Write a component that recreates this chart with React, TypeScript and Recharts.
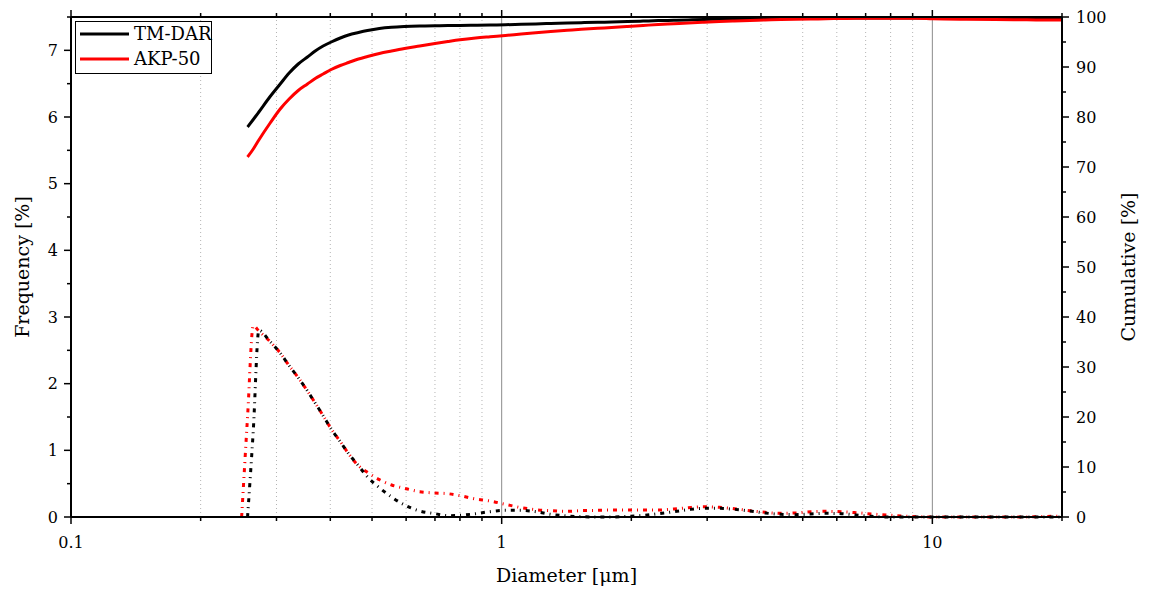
import React from 'react';
import { ComposedChart, Line, XAxis, YAxis, ReferenceLine, Legend } from 'recharts';

const diameters = [
  0.249, 0.257, 0.265, 0.273, 0.29, 0.306, 0.321, 0.337, 0.354, 0.369,
  0.385, 0.402, 0.422, 0.441, 0.465, 0.488, 0.52, 0.555, 0.595, 0.645,
  0.7, 0.75, 0.8, 0.87, 0.94, 1.02, 1.11, 1.2, 1.3, 1.42,
  1.53, 1.67, 1.8, 1.96, 2.13, 2.31, 2.51, 2.71, 2.95, 3.2,
  3.47, 3.77, 4.09, 4.45, 4.81, 5.22, 5.66, 6.14, 6.65, 7.23,
  7.83, 8.47, 9.17, 10, 12, 14, 16, 17.6, 19.1, 20,
];

const tmDarFrequency = [
  null, 0, 1.3, 2.8, 2.63, 2.46, 2.27, 2.09, 1.89, 1.71,
  1.52, 1.32, 1.13, 0.95, 0.77, 0.6, 0.44, 0.3, 0.18, 0.09,
  0.05, 0.02, 0.025, 0.05, 0.08, 0.1, 0.1, 0.08, 0.04, 0.015,
  0.005, 0, 0, 0.01, 0.025, 0.05, 0.08, 0.11, 0.13, 0.13,
  0.115, 0.09, 0.06, 0.04, 0.035, 0.045, 0.055, 0.05, 0.03, 0.01,
  0, 0, 0, 0, 0, 0, 0, 0, 0, 0,
];

const akp50Frequency = [
  0, 1.5, 2.87, 2.79, 2.63, 2.46, 2.27, 2.09, 1.89, 1.71,
  1.52, 1.32, 1.13, 0.95, 0.77, 0.67, 0.56, 0.48, 0.43, 0.38,
  0.36, 0.35, 0.32, 0.27, 0.24, 0.19, 0.14, 0.11, 0.095, 0.085,
  0.095, 0.1, 0.105, 0.105, 0.105, 0.105, 0.12, 0.14, 0.155, 0.145,
  0.125, 0.095, 0.07, 0.055, 0.06, 0.08, 0.085, 0.08, 0.065, 0.045,
  0.03, 0.015, 0.005, 0, 0, 0, 0, 0.005, 0.01, 0.01,
];

const tmDarCumulative = [
  null, 78.0, 79.5, 81.0, 84.1, 86.6, 88.8, 90.6, 92.0, 93.2,
  94.2, 95.0, 95.8, 96.4, 96.9, 97.3, 97.7, 97.95, 98.1, 98.2,
  98.25, 98.3, 98.3, 98.35, 98.4, 98.45, 98.55, 98.62, 98.7, 98.8,
  98.87, 98.95, 99.0, 99.08, 99.18, 99.28, 99.35, 99.42, 99.5, 99.55,
  99.6, 99.65, 99.7, 99.72, 99.75, 99.77, 99.78, 99.8, 99.8, 99.8,
  99.8, 99.8, 99.8, 99.8, 99.78, 99.76, 99.75, 99.75, 99.75, 99.75,
];

const akp50Cumulative = [
  null, 72.0, 73.6, 75.4, 78.8, 81.6, 83.6, 85.3, 86.6, 87.7,
  88.6, 89.5, 90.3, 90.9, 91.6, 92.1, 92.7, 93.2, 93.7, 94.2,
  94.7, 95.1, 95.45, 95.8, 96.05, 96.3, 96.6, 96.85, 97.1, 97.35,
  97.55, 97.75, 97.9, 98.1, 98.3, 98.5, 98.65, 98.8, 98.95, 99.1,
  99.2, 99.3, 99.4, 99.5, 99.55, 99.6, 99.65, 99.7, 99.75, 99.75,
  99.75, 99.75, 99.75, 99.65, 99.55, 99.5, 99.45, 99.4, 99.4, 99.4,
];

const seriesNames = ['TM-DAR', 'AKP-50'];
const seriesColors = ['#000000', '#ff0000'];

const xTicks = [0.1, 0.2, 0.3, 0.4, 0.5, 0.6, 0.7, 0.8, 0.9, 1, 2, 3, 4, 5, 6, 7, 8, 9, 10, 20];
const xMajorTicks = [0.1, 1, 10];
const gridDotted = [0.2, 0.3, 0.4, 0.5, 0.6, 0.7, 0.8, 0.9, 2, 3, 4, 5, 6, 7, 8, 9];
const gridSolid = [1, 10];
const freqTicks = [0, 0.5, 1, 1.5, 2, 2.5, 3, 3.5, 4, 4.5, 5, 5.5, 6, 6.5, 7, 7.5];
const cumTicks = [0, 5, 10, 15, 20, 25, 30, 35, 40, 45, 50, 55, 60, 65, 70, 75, 80, 85, 90, 95, 100];

const data = diameters.map((d, i) => ({
  d,
  tmF: tmDarFrequency[i],
  akF: akp50Frequency[i],
  tmC: tmDarCumulative[i],
  akC: akp50Cumulative[i],
}));

const FONT = '"DejaVu Serif", serif';
const TICK_FS = 16;
const MAJOR = 7;
const MINOR = 4;

const BottomTick = (props: any) => {
  const { x, y, payload } = props;
  const v = payload.value;
  const major = xMajorTicks.includes(v);
  return (
    <g>
      <line x1={x} x2={x} y1={y} y2={y + (major ? MAJOR : MINOR)} stroke="#000" strokeWidth={1.5} />
      {major && (
        <text x={x} y={y + 25} textAnchor="middle" dominantBaseline="central" fontFamily={FONT} fontSize={TICK_FS} fill="#000">
          {String(v)}
        </text>
      )}
    </g>
  );
};

const TopTick = (props: any) => {
  const { x, y, payload } = props;
  const major = xMajorTicks.includes(payload.value);
  return <line x1={x} x2={x} y1={y} y2={y - (major ? MAJOR : MINOR)} stroke="#000" strokeWidth={1.5} />;
};

const LeftTick = (props: any) => {
  const { x, y, payload } = props;
  const v = payload.value;
  const major = Number.isInteger(v);
  return (
    <g>
      <line x1={x} x2={x - (major ? MAJOR : MINOR)} y1={y} y2={y} stroke="#000" strokeWidth={1.5} />
      {major && (
        <text x={x - 13} y={y} textAnchor="end" dominantBaseline="central" fontFamily={FONT} fontSize={TICK_FS} fill="#000">
          {String(v)}
        </text>
      )}
    </g>
  );
};

const RightTick = (props: any) => {
  const { x, y, payload } = props;
  const v = payload.value;
  const major = v % 10 === 0;
  return (
    <g>
      <line x1={x} x2={x + (major ? MAJOR : MINOR)} y1={y} y2={y} stroke="#000" strokeWidth={1.5} />
      {major && (
        <text x={x + 14} y={y} textAnchor="start" dominantBaseline="central" fontFamily={FONT} fontSize={TICK_FS} fill="#000">
          {String(v)}
        </text>
      )}
    </g>
  );
};

const LegendBox = (props: any) => {
  const payload = (props.payload || [])
    .filter((p: any) => seriesNames.includes(p.value))
    .sort((a: any, b: any) => seriesNames.indexOf(a.value) - seriesNames.indexOf(b.value));
  return (
    <div
      style={{
        border: '1px solid #000',
        background: '#fff',
        width: 135,
        height: 51,
        boxSizing: 'content-box',
        position: 'relative',
      }}
    >
      {payload.map((p: any, i: number) => (
        <div key={p.value} style={{ position: 'absolute', left: 0, top: i * 25, height: 24, display: 'flex', alignItems: 'center' }}>
          <svg width={58} height={24} style={{ display: 'block' }}>
            <line x1={4} x2={53} y1={12} y2={12} stroke={p.color} strokeWidth={3} />
          </svg>
          <span style={{ fontFamily: FONT, fontSize: 18, color: '#000', lineHeight: '24px', whiteSpace: 'nowrap' }}>{p.value}</span>
        </div>
      ))}
    </div>
  );
};

const labelText = (text: string, dx: number, dy: number, rotate: boolean) => (props: any) => {
  const vb = props.viewBox || { x: 0, y: 0, width: 0, height: 0 };
  const cx = rotate ? vb.x + dx : vb.x + vb.width / 2;
  const cy = rotate ? vb.y + vb.height / 2 : vb.y + dy;
  return (
    <text
      x={cx}
      y={cy}
      textAnchor="middle"
      dominantBaseline="central"
      fontFamily={FONT}
      fontSize={19}
      fill="#000"
      transform={rotate ? `rotate(-90, ${cx}, ${cy})` : undefined}
    >
      {text}
    </text>
  );
};

export default function App() {
  return (
    <div style={{ width: 1141, height: 587, position: 'relative' }}>
      <ComposedChart width={1141} height={587} data={data} margin={{ top: 8, right: 7, bottom: 8, left: 8 }}>
        <XAxis
          xAxisId="bottom"
          dataKey="d"
          type="number"
          scale="log"
          domain={[0.1, 20]}
          allowDataOverflow
          ticks={xTicks}
          interval={0}
          tickSize={0}
          tickMargin={0}
          tick={<BottomTick />}
          axisLine={{ stroke: '#000', strokeWidth: 2 }}
          height={70}
          label={{ content: labelText('Diameter [μm]', 0, 58, false) }}
        />
        <XAxis
          xAxisId="top"
          orientation="top"
          dataKey="d"
          type="number"
          scale="log"
          domain={[0.1, 20]}
          allowDataOverflow
          ticks={xTicks}
          interval={0}
          tickSize={0}
          tickMargin={0}
          tick={<TopTick />}
          axisLine={{ stroke: '#000', strokeWidth: 2 }}
          height={1}
        />
        <YAxis
          yAxisId="left"
          type="number"
          domain={[0, 7.5]}
          ticks={freqTicks}
          interval={0}
          tickSize={0}
          tickMargin={0}
          tick={<LeftTick />}
          axisLine={{ stroke: '#000', strokeWidth: 2 }}
          width={55}
          label={{ content: labelText('Frequency [%]', 6, 0, true) }}
        />
        <YAxis
          yAxisId="right"
          orientation="right"
          type="number"
          domain={[0, 100]}
          ticks={cumTicks}
          interval={0}
          tickSize={0}
          tickMargin={0}
          tick={<RightTick />}
          axisLine={{ stroke: '#000', strokeWidth: 2 }}
          width={80}
          label={{ content: labelText('Cumulative [%]', 66, 0, true) }}
        />
        {gridDotted.map((v) => (
          <ReferenceLine key={'gd' + v} x={v} xAxisId="bottom" yAxisId="left" stroke="#b4b4b4" strokeWidth={1} strokeDasharray="1 3" />
        ))}
        {gridSolid.map((v) => (
          <ReferenceLine key={'gs' + v} x={v} xAxisId="bottom" yAxisId="left" stroke="#8c8c8c" strokeWidth={1} />
        ))}
        <Line
          xAxisId="bottom"
          yAxisId="left"
          dataKey="akF"
          type="monotone"
          stroke={seriesColors[1]}
          strokeWidth={3}
          strokeDasharray="4 5 1 5"
          dot={false}
          legendType="none"
          isAnimationActive={false}
        />
        <Line
          xAxisId="bottom"
          yAxisId="left"
          dataKey="tmF"
          type="monotone"
          stroke={seriesColors[0]}
          strokeWidth={3}
          strokeDasharray="4 5 1 5"
          dot={false}
          legendType="none"
          isAnimationActive={false}
        />
        <Line
          xAxisId="top"
          yAxisId="right"
          dataKey="tmC"
          name={seriesNames[0]}
          type="monotone"
          stroke={seriesColors[0]}
          strokeWidth={3}
          dot={false}
          isAnimationActive={false}
        />
        <Line
          xAxisId="top"
          yAxisId="right"
          dataKey="akC"
          name={seriesNames[1]}
          type="monotone"
          stroke={seriesColors[1]}
          strokeWidth={3}
          dot={false}
          isAnimationActive={false}
        />
        <Legend
          layout="horizontal"
          verticalAlign="middle"
          align="center"
          content={<LegendBox />}
          wrapperStyle={{ left: 67, top: 13, width: 137, height: 53, margin: 0 }}
        />
      </ComposedChart>
    </div>
  );
}
